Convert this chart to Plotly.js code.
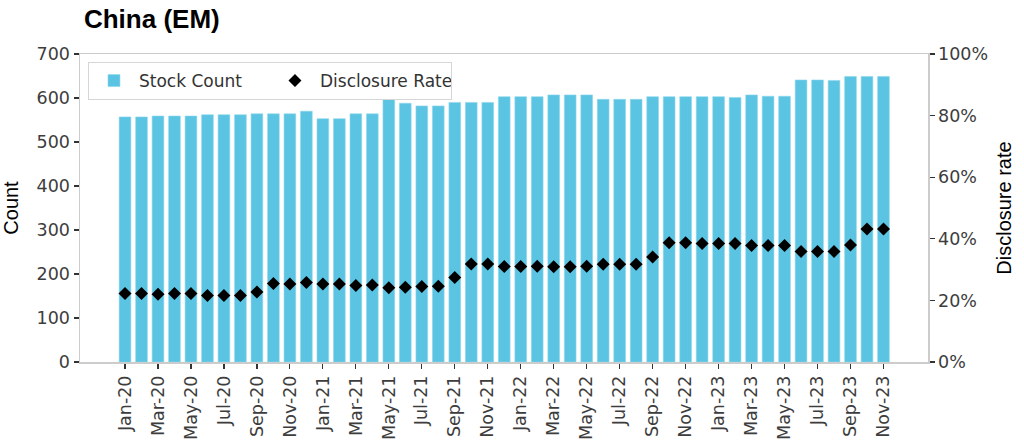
<!DOCTYPE html>
<html>
<head>
<meta charset="utf-8">
<script src="https://cdn.plot.ly/plotly-3.0.1.min.js"></script>
<style>html,body{margin:0;padding:0;background:#fff;}#chart{width:1024px;height:447px;}</style>
</head>
<body>
<div id="chart"></div>
<script>
const months = ["Jan-20","Feb-20","Mar-20","Apr-20","May-20","Jun-20","Jul-20","Aug-20","Sep-20","Oct-20","Nov-20","Dec-20",
"Jan-21","Feb-21","Mar-21","Apr-21","May-21","Jun-21","Jul-21","Aug-21","Sep-21","Oct-21","Nov-21","Dec-21",
"Jan-22","Feb-22","Mar-22","Apr-22","May-22","Jun-22","Jul-22","Aug-22","Sep-22","Oct-22","Nov-22","Dec-22",
"Jan-23","Feb-23","Mar-23","Apr-23","May-23","Jun-23","Jul-23","Aug-23","Sep-23","Oct-23","Nov-23"];
const stockCount = [557,557,559,559,559,562,562,562,564,564,564,570,
553,553,564,564,597,588,582,582,590,590,590,603,
603,603,607,607,607,597,597,597,603,603,603,603,
603,601,607,604,604,641,641,640,649,649,649];
const disclosureRate = [0.222,0.222,0.220,0.222,0.222,0.216,0.216,0.216,0.227,0.255,0.253,0.258,
0.253,0.253,0.248,0.250,0.241,0.243,0.245,0.246,0.274,0.318,0.318,0.310,
0.310,0.311,0.309,0.309,0.311,0.317,0.317,0.317,0.341,0.387,0.387,0.385,
0.385,0.385,0.378,0.378,0.378,0.359,0.359,0.359,0.380,0.432,0.432];
const tickLabels = months.filter((m, i) => i % 2 === 0);

const tickFont = {family: "DejaVu Sans", size: 17.5, color: "#3d3d3d"};
const titleFont = {family: "Liberation Sans, Arial", size: 20, color: "#000"};

const traces = [
  {type: "bar", x: months, y: stockCount, name: "Stock Count",
   marker: {color: "#5AC4E2", line: {color: "#8fd6ec", width: 0.6}}, width: 0.71},
  {type: "scatter", mode: "markers", x: months, y: disclosureRate, name: "Disclosure Rate", yaxis: "y2",
   marker: {symbol: "diamond", color: "#000", size: 10, line: {width: 0}}}
];

const layout = {
  width: 1024, height: 447,
  margin: {l: 80, r: 96, t: 54, b: 85},
  paper_bgcolor: "#fff", plot_bgcolor: "#fff",
  showlegend: true,
  title: {text: "<b>China (EM)</b>", font: {family: "Liberation Sans, Arial", size: 26, color: "#000"},
          xref: "container", x: 0.082, xanchor: "left", yref: "container", y: 0.958, yanchor: "middle"},
  xaxis: {type: "category", range: [-2.73, 48.70], tickmode: "array", tickvals: tickLabels, ticktext: tickLabels,
          tickangle: -90, ticks: "outside", ticklen: 5, tickwidth: 1.2, tickcolor: "#333",
          tickfont: tickFont, showgrid: false, zeroline: false,
          showline: true, linecolor: "#cccccc", linewidth: 1.5, mirror: true},
  yaxis: {range: [0, 700], dtick: 100, ticks: "outside", ticklen: 5, tickwidth: 1.2, tickcolor: "#333",
          tickfont: tickFont, showgrid: false, zeroline: false,
          showline: true, linecolor: "#cccccc", linewidth: 1.5,
          title: {text: "Count", font: titleFont, standoff: 14}},
  yaxis2: {overlaying: "y", side: "right", range: [0, 1], dtick: 0.2, tickformat: ".0%",
           ticks: "outside", ticklen: 5, tickwidth: 1.2, tickcolor: "#333",
           tickfont: tickFont, showgrid: false, zeroline: false,
           showline: true, linecolor: "#cccccc", linewidth: 1.5,
           title: {text: "Disclosure rate", font: titleFont, standoff: 10}},
  legend: {orientation: "h", x: 0.0094, y: 0.974, xanchor: "left", yanchor: "top",
           bgcolor: "#fff", bordercolor: "#d6d6d6", borderwidth: 1,
           font: {family: "DejaVu Sans", size: 17, color: "#333"},
           entrywidth: 126, entrywidthmode: "pixels", itemwidth: 40},
  bargap: 0.29
};

Plotly.newPlot("chart", traces, layout, {displayModeBar: false, staticPlot: true});
</script>
</body>
</html>
